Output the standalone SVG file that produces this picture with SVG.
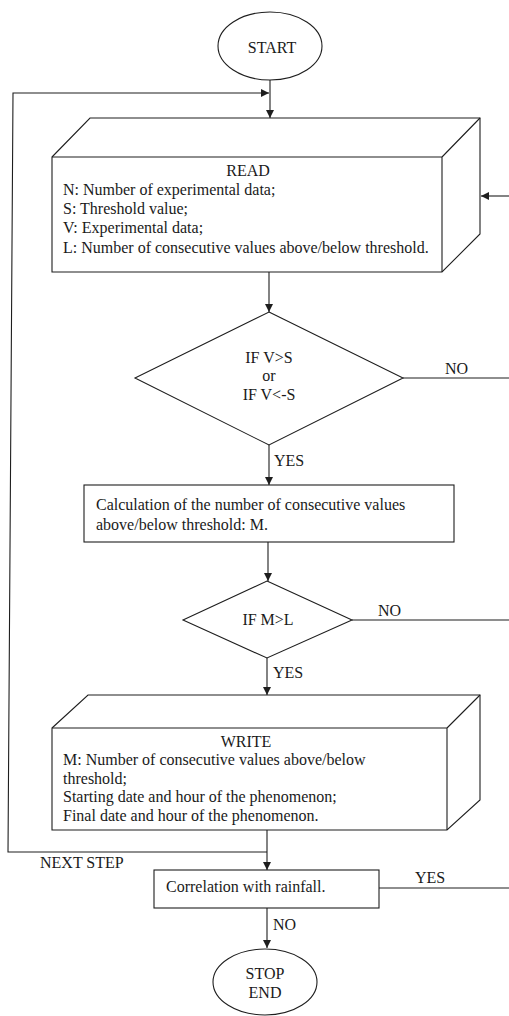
<svg xmlns="http://www.w3.org/2000/svg" width="509" height="1016" viewBox="0 0 509 1016">
<style>
.s{fill:#fff;stroke:#1e1e1e;stroke-width:1.1}
.c{fill:none;stroke:#1e1e1e;stroke-width:1.1}
text{font-family:'Liberation Serif','DejaVu Serif',serif;font-size:16px;fill:#1a1a1a}
.m{text-anchor:middle}
</style>
<defs>
<marker id="a" viewBox="0 0 10 10" refX="10" refY="5" markerWidth="8" markerHeight="8" markerUnits="userSpaceOnUse" orient="auto">
<path d="M0,0 L10,5 L0,10 z" fill="#1e1e1e"/>
</marker>
</defs>
<rect width="509" height="1016" fill="#fff"/>
<g font-family="Liberation Serif, DejaVu Serif, serif">
<g id="connectors">
<line class="c" x1="270" y1="80" x2="270" y2="118" marker-end="url(#a)"/>
<polyline class="c" points="267,852 8,852 13,93 269,93" marker-end="url(#a)"/>
<line class="c" x1="509" y1="196" x2="481" y2="196" marker-end="url(#a)"/>
<line class="c" x1="269" y1="272" x2="269" y2="312" marker-end="url(#a)"/>
<line class="c" x1="403" y1="378" x2="509" y2="378"/>
<line class="c" x1="269" y1="445" x2="269" y2="485" marker-end="url(#a)"/>
<line class="c" x1="268" y1="542" x2="268" y2="581" marker-end="url(#a)"/>
<line class="c" x1="352" y1="620" x2="509" y2="620"/>
<line class="c" x1="267" y1="658" x2="267" y2="695" marker-end="url(#a)"/>
<line class="c" x1="267" y1="830" x2="267" y2="870" marker-end="url(#a)"/>
<line class="c" x1="379" y1="888" x2="509" y2="888"/>
<line class="c" x1="267" y1="908" x2="267" y2="948" marker-end="url(#a)"/>
<text x="445" y="374">NO</text>
<text x="274" y="466">YES</text>
<text x="378" y="616">NO</text>
<text x="273" y="678">YES</text>
<text x="40" y="868">NEXT STEP</text>
<text x="415" y="883">YES</text>
<text x="273" y="930">NO</text>
</g>
<g id="start">
<ellipse class="s" cx="270" cy="46" rx="52" ry="34"/>
<text class="m" x="272" y="53">START</text>
</g>
<g id="read">
<path class="s" d="M52,157 L90,118 L480,118 L480,234 L442,272 L52,272 Z"/>
<path class="c" d="M52,157 L442,157 L442,272 M442,157 L480,118"/>
<text class="m" x="248" y="176">READ</text>
<text x="63" y="195">N: Number of experimental data;</text>
<text x="63" y="214">S: Threshold value;</text>
<text x="63" y="233">V: Experimental data;</text>
<text x="63" y="253">L: Number of consecutive values above/below threshold.</text>
</g>
<g id="cond1">
<polygon class="s" points="269,312 403,378 269,445 135,378"/>
<text class="m" x="269" y="363">IF V&gt;S</text>
<text class="m" x="269" y="381">or</text>
<text class="m" x="269" y="400">IF V&lt;-S</text>
</g>
<g id="calc">
<rect class="s" x="84" y="485" width="370" height="57"/>
<text x="96" y="510">Calculation of the number of consecutive values</text>
<text x="96" y="530">above/below threshold: M.</text>
</g>
<g id="cond2">
<polygon class="s" points="267,581 352,620 267,658 183,620"/>
<text class="m" x="268" y="625">IF M&gt;L</text>
</g>
<g id="write">
<path class="s" d="M52,728 L88,695 L480,695 L480,800 L447,830 L52,830 Z"/>
<path class="c" d="M52,728 L447,728 L447,830 M447,728 L480,695"/>
<text class="m" x="246" y="747">WRITE</text>
<text x="63" y="765">M: Number of consecutive values above/below</text>
<text x="63" y="784">threshold;</text>
<text x="63" y="802">Starting date and hour of the phenomenon;</text>
<text x="63" y="821">Final date and hour of the phenomenon.</text>
</g>
<g id="corr">
<rect class="s" x="154" y="870" width="225" height="38"/>
<text x="166" y="892">Correlation with rainfall.</text>
</g>
<g id="stop">
<ellipse class="s" cx="265" cy="982" rx="52" ry="33"/>
<text class="m" x="265" y="979">STOP</text>
<text class="m" x="265" y="998">END</text>
</g>
</g>
</svg>
